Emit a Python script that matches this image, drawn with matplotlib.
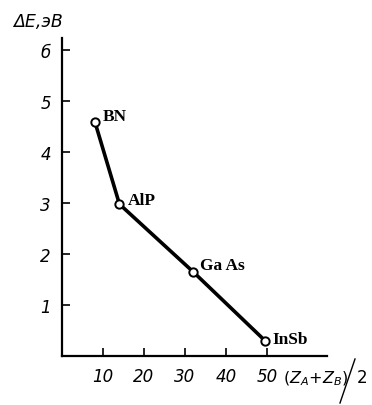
import matplotlib
matplotlib.use("Agg")
import matplotlib.pyplot as plt
from matplotlib.lines import Line2D

# данные
compounds = ['BN', 'AlP', 'Ga As', 'InSb']
z_mean = [8, 14, 32, 49.5]
delta_e = [4.6, 2.98, 1.65, 0.3]
x_ticks = [10, 20, 30, 40, 50]
y_ticks = [1, 2, 3, 4, 5, 6]
y_tick_labels = ['1', '2', '3', '4', '5', 'б']

W, H = 372, 406
fig = plt.figure(figsize=(W / 100, H / 100), dpi=100)
ax = fig.add_axes([62 / W, 1 - 357 / H, (327 - 62) / W, (357 - 39) / H])

ax.plot(z_mean, delta_e, color='black', lw=2.6, zorder=2)
ax.plot(z_mean, delta_e, 'o', ms=6, mfc='white', mec='black', mew=1.4, zorder=3)

offsets = [(6, 4), (6, 3), (5, 5), (5, 1)]
for name, x, y, off in zip(compounds, z_mean, delta_e, offsets):
    ax.annotate(name, (x, y), xytext=off, textcoords='offset points',
                fontsize=12.5, family='Liberation Serif', fontweight='bold',
                ha='left', va='center')

ax.set_xlim(0, 64.6)
ax.set_ylim(0, 6.24)
ax.set_xticks(x_ticks)
ax.set_yticks(y_ticks)
ax.set_yticklabels(y_tick_labels)
for lbl in ax.get_xticklabels() + ax.get_yticklabels():
    lbl.set_fontstyle('italic')
    lbl.set_fontsize(12)
ax.tick_params(direction='in', length=6, width=1.2, pad=8)
ax.spines['top'].set_visible(False)
ax.spines['right'].set_visible(False)
for s in ['left', 'bottom']:
    ax.spines[s].set_linewidth(1.6)

fig.text(13 / W, 1 - 22 / H, 'ΔE,эВ', fontsize=12.5, style='italic', va='center', ha='left')
# подпись оси x: (Z_A+Z_B) / 2 с длинной косой чертой
fig.text(283 / W, 1 - 379 / H, r'$(Z_A\!+\!Z_B)$', fontsize=11.5, va='center', ha='left')
fig.add_artist(Line2D([340 / W, 355 / W], [1 - 404 / H, 1 - 360 / H],
                      transform=fig.transFigure, color='black', lw=1.0))
fig.text(356 / W, 1 - 378 / H, r'$2$', fontsize=12, va='center', ha='left')

fig.savefig('out.png', dpi=100)
